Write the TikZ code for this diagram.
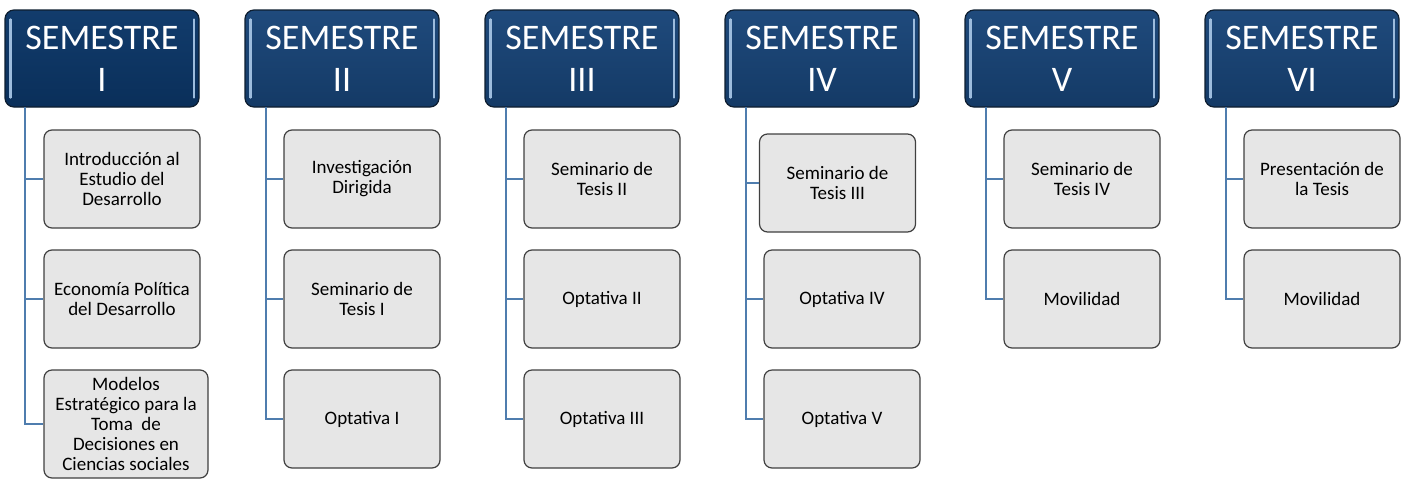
\documentclass[tikz,border=0pt]{standalone}
\usepackage{fontspec}
\setmainfont{Carlito}
\usetikzlibrary{calc}
\definecolor{hdrtop}{HTML}{1F4A7C}
\definecolor{hdrbot}{HTML}{143A66}
\definecolor{hdrtopA}{HTML}{123C6C}
\definecolor{hdrbotA}{HTML}{0A2F5A}
\definecolor{hdrborder}{HTML}{0E1E30}
\definecolor{hlc}{HTML}{9DBCDD}
\definecolor{itemfill}{HTML}{E6E6E6}
\definecolor{itemborder}{HTML}{404040}
\definecolor{connc}{HTML}{4F7DAE}
\begin{document}
\begin{tikzpicture}[x=1pt,y=-1pt,
 hdr/.style={draw=hdrborder, line width=1.2pt, rounded corners=9pt, top color=hdrtop, bottom color=hdrbot, minimum width=194pt, minimum height=97pt, inner sep=0pt, text=white, font=\fontsize{36}{42}\selectfont, align=center},
 item/.style={draw=itemborder, line width=1.2pt, fill=itemfill, rounded corners=8pt, minimum width=156pt, minimum height=98pt, inner sep=2pt, align=center, font=\fontsize{19}{20}\selectfont, text=black},
 conn/.style={draw=connc, line width=2pt},
 hl/.style={draw=hlc, line width=2.2pt, line cap=round}]
\useasboundingbox (0,0) rectangle (1404,480);

\coordinate (t1) at (25,107);
\coordinate (t2) at (266,107);
\coordinate (t3) at (506,107);
\coordinate (t4) at (746,107);
\coordinate (t5) at (986,107);
\coordinate (t6) at (1226,107);

% headers
\node[hdr, top color=hdrtopA, bottom color=hdrbotA] (h1) at (102,58.5) {SEMESTRE\\I};
\node[hdr] (h2) at (342,58.5) {SEMESTRE\\II};
\node[hdr] (h3) at (582,58.5) {SEMESTRE\\III};
\node[hdr] (h4) at (822,58.5) {SEMESTRE\\IV};
\node[hdr] (h5) at (1062,58.5) {SEMESTRE\\V};
\node[hdr] (h6) at (1302,58.5) {SEMESTRE\\VI};
\foreach \h in {h1,h2,h3,h4,h5,h6}{
  \draw[hl] ($(\h.north west)+(6,10)$) -- ($(\h.south west)+(6,-10)$);
  \draw[hl] ($(\h.north east)+(-6,10)$) -- ($(\h.south east)+(-6,-10)$);
}

% items
\node[item] (a1) at (122,179) {Introducción al\\Estudio del\\Desarrollo};
\node[item] (a2) at (122,299) {Economía Política\\del Desarrollo};
\node[item, minimum width=164pt, minimum height=108pt] (a3) at (126,424) {Modelos\\Estratégico para la\\Toma\ \ de\\Decisiones en\\Ciencias sociales};

\node[item] (b1) at (362,179) {Investigación\\Dirigida};
\node[item] (b2) at (362,299) {Seminario de\\Tesis I};
\node[item] (b3) at (362,419) {Optativa I};

\node[item] (c1) at (602,179) {Seminario de\\Tesis II};
\node[item] (c2) at (602,299) {Optativa II};
\node[item] (c3) at (602,419) {Optativa III};

\node[item] (d1) at (837.5,183) {Seminario de\\Tesis III};
\node[item] (d2) at (842,299) {Optativa IV};
\node[item] (d3) at (842,419) {Optativa V};

\node[item] (e1) at (1082,179) {Seminario de\\Tesis IV};
\node[item] (e2) at (1082,299) {Movilidad};

\node[item] (f1) at (1322,179) {Presentación de\\la Tesis};
\node[item] (f2) at (1322,299) {Movilidad};

% connectors
\draw[conn] (t1) |- (a1.west);
\draw[conn] (t1) |- (a2.west);
\draw[conn] (t1) |- (a3.west);
\draw[conn] (t2) |- (b1.west);
\draw[conn] (t2) |- (b2.west);
\draw[conn] (t2) |- (b3.west);
\draw[conn] (t3) |- (c1.west);
\draw[conn] (t3) |- (c2.west);
\draw[conn] (t3) |- (c3.west);
\draw[conn] (t4) |- (d1.west);
\draw[conn] (t4) |- (d2.west);
\draw[conn] (t4) |- (d3.west);
\draw[conn] (t5) |- (e1.west);
\draw[conn] (t5) |- (e2.west);
\draw[conn] (t6) |- (f1.west);
\draw[conn] (t6) |- (f2.west);
\end{tikzpicture}
\end{document}
